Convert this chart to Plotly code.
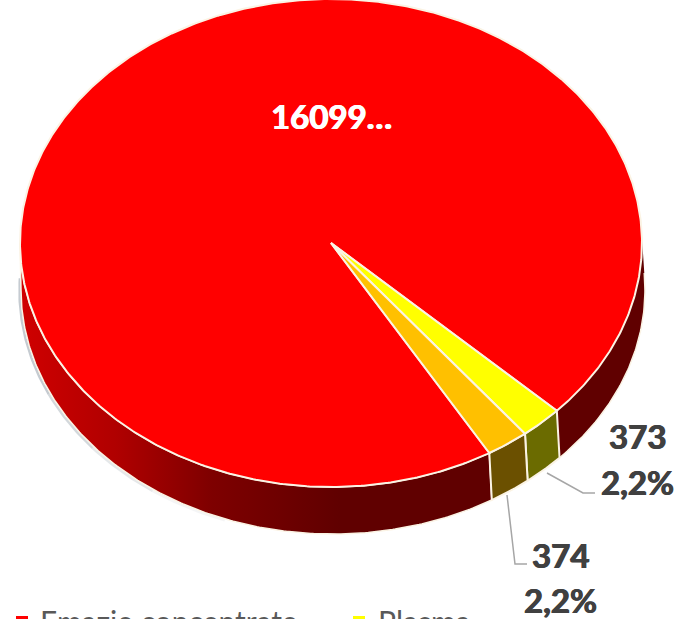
import numpy as np
import plotly.graph_objects as go

# --- data ---
categories = ["Emazie concentrate", "Plasma", "(terza categoria, non leggibile)"]
values = [16099, 373, 374]
top_colors = ["#FF0000", "#FFFF00", "#FFC000"]
side_colors = ["#600000", "#6B6B00", "#6B5000"]
data_labels = ["16099…", "373", "374"]
legend_visible = [True, True, False]

# --- pie geometry (pixels of the axis frame) ---
W, H = 679, 619
CX, CY, RX, RY, DEPTH = 331, 243, 311, 244, 47
BOTTOM_DX, BOTTOM_DR = 2, 1  # the lower rim sits slightly right and wider (perspective)
START = 59.4  # first slice start, degrees clockwise from 3 o'clock
EDGE = "#FBF3E4"

total = sum(values)
spans = [v / total * 360 for v in values]
starts = [START + sum(spans[:i]) for i in range(len(values))]


def arc(a0, a1, bottom=False):
    n = max(4, int(abs(a1 - a0) * 2))
    t = np.radians(np.linspace(a0, a1, n))
    if bottom:
        return CX + BOTTOM_DX + (RX + BOTTOM_DR) * np.cos(t), CY + DEPTH + RY * np.sin(t)
    return CX + RX * np.cos(t), CY + RY * np.sin(t)


def wall(a0, a1):
    x0, y0 = arc(a0, a1)
    x1, y1 = arc(a1, a0, True)
    return np.r_[x0, x1, x0[0]], np.r_[y0, y1, y0[0]]


def face(a0, a1):
    x, y = arc(a0, a1)
    return np.r_[CX, x, CX], np.r_[CY, y, CY]


fig = go.Figure()
kw = dict(mode="lines", hoverinfo="skip", showlegend=False)

# soft shadow along the lower-left rim, fading towards the bottom
for a0, a1, alpha in [(110, 125, 0.08), (125, 140, 0.18), (140, 155, 0.3), (155, 183, 0.4)]:
    sx, sy = arc(a0, a1, True)
    fig.add_trace(go.Scatter(x=sx - 1.5, y=sy + 1, line=dict(color=f"rgba(110,125,140,{alpha})", width=2.5), **kw))

# side walls: the large slice wraps around both sides of the two small ones
red_end = starts[0] + spans[0] - 360
wx, wy = wall(starts[0], 180)
fig.add_trace(go.Scatter(
    x=wx, y=wy, fill="toself",
    fillgradient=dict(type="horizontal", start=20, stop=340,
                      colorscale=[[0, "#D00000"], [0.3, "#B00000"], [0.6, "#7E0000"], [1, side_colors[0]]]),
    line=dict(color=EDGE, width=1.5), **kw))
wx, wy = wall(-4, red_end)
fig.add_trace(go.Scatter(x=wx, y=wy, fill="toself", fillcolor=side_colors[0],
                         line=dict(color=EDGE, width=0), **kw))
bx, by = arc(-4, red_end, True)
fig.add_trace(go.Scatter(x=bx, y=by, line=dict(color=EDGE, width=1.5), **kw))
for i in (1, 2):
    a = starts[i] - 360 if starts[i] > 360 else starts[i]
    wx, wy = wall(a, a + spans[i])
    fig.add_trace(go.Scatter(x=wx, y=wy, fill="toself", fillcolor=side_colors[i],
                             line=dict(color=EDGE, width=2), **kw))

# top faces
for i in range(3):
    fx, fy = face(starts[i], starts[i] + spans[i])
    fig.add_trace(go.Scatter(x=fx, y=fy, fill="toself", fillcolor=top_colors[i],
                             line=dict(color=EDGE, width=2), **kw))

# leader lines
leader_373 = ([547, 583, 595], [473, 493, 493])
leader_374 = ([507, 515, 527], [495, 564, 564])
for lx, ly in (leader_373, leader_374):
    fig.add_trace(go.Scatter(x=lx, y=ly, line=dict(color="#A6A6A6", width=1.5), **kw))

# data labels
FONT = "Lato, Carlito, sans-serif"


def pct(v):
    return f"{v / total * 100:.1f}%".replace(".", ",")


def label(x, y, text, color="#404040", size=33):
    fig.add_annotation(x=x, y=y, text=f"<b>{text}</b>", showarrow=False, xanchor="center", yanchor="middle",
                       font=dict(family=FONT, size=size, color=color,
                                 shadow=f"0.6px 0 0 {color}, -0.6px 0 0 {color}"))


label(331, 116, data_labels[0], "#FFFFFF")
label(637, 436, data_labels[1])
label(637, 482, pct(values[1]))
label(560, 555, data_labels[2])
label(560, 600, pct(values[2]))

# legend (only its upper edge falls inside the picture)
legend_x = [(22, 38), (359, 376)]
for (mx, tx), name, col, vis in zip(legend_x, categories, top_colors, legend_visible):
    if vis:
        fig.add_trace(go.Scatter(x=[mx], y=[622], mode="markers", hoverinfo="skip", showlegend=False,
                                 marker=dict(symbol="square", size=12, color=col)))
        fig.add_annotation(x=tx, xref="x", y=-2 / H, yref="paper", text=name, showarrow=False,
                           xanchor="left", yanchor="middle",
                           font=dict(family=FONT, size=30, color="#595959"))

fig.update_layout(
    width=W, height=H, margin=dict(l=0, r=0, t=0, b=0),
    paper_bgcolor="white", plot_bgcolor="white", showlegend=False,
    xaxis=dict(range=[0, W], visible=False, fixedrange=True),
    yaxis=dict(range=[H, 0], visible=False, fixedrange=True),
)
fig.write_html("out.html", config={"displayModeBar": False},
               post_script="document.body.style.margin='0';document.body.style.overflow='hidden';")
